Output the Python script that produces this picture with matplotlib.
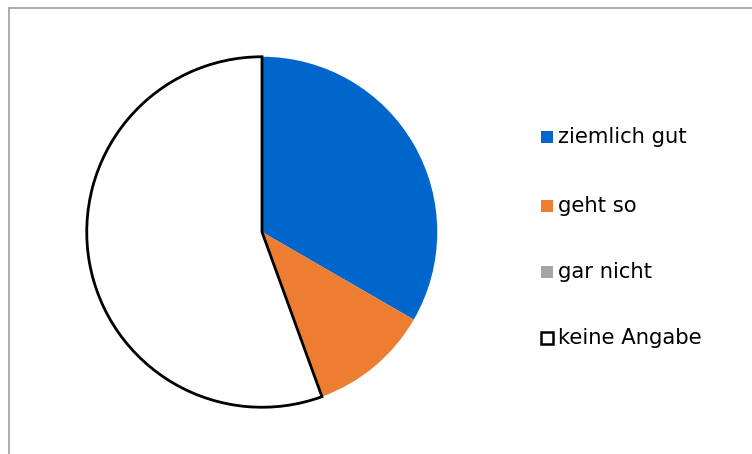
import matplotlib
matplotlib.use("Agg")
import matplotlib.pyplot as plt
from matplotlib.patches import Rectangle
from matplotlib.lines import Line2D

categories = ["ziemlich gut", "geht so", "gar nicht", "keine Angabe"]
values = [3, 1, 0, 5]
colors = ["#0066CC", "#ED7D31", "#A5A5A5", "#FFFFFF"]

W, H = 752, 454
fig = plt.figure(figsize=(W / 100, H / 100), dpi=100)

# outer frame (gray line on left and top)
fig.add_artist(Line2D([8.5 / W, 8.5 / W], [0, 1 - 7.5 / H], transform=fig.transFigure,
                      color="#A0A0A0", lw=1.2))
fig.add_artist(Line2D([8.5 / W, 1], [1 - 7.5 / H, 1 - 7.5 / H], transform=fig.transFigure,
                      color="#A0A0A0", lw=1.2))

cx, cy, r = 262, H - 232, 177
ax = fig.add_axes([(cx - r) / W, (cy - r) / H, 2 * r / W, 2 * r / H])
wedges, _ = ax.pie(values, colors=colors, startangle=90, counterclock=False, radius=1,
                   wedgeprops=dict(linewidth=0))
wedges[3].set_edgecolor("black")
wedges[3].set_linewidth(2)
ax.set_xlim(-1.01, 1.01)
ax.set_ylim(-1.01, 1.01)
ax.set_aspect("auto")
ax.axis("off")

# legend drawn manually
ys = [137, 206, 272, 338]
sq = 12.5
for lab, col, y in zip(categories, colors, ys):
    ec = "black" if col == "#FFFFFF" else col
    lw = 1.8 if col == "#FFFFFF" else 0
    fig.add_artist(Rectangle(((540.5) / W, (H - y - sq / 2) / H), sq / W, sq / H,
                             transform=fig.transFigure, facecolor=col, edgecolor=ec, lw=lw))
    fig.text(557.5 / W, (H - y) / H, lab, fontsize=15.2, va="center", ha="left",
             family="DejaVu Sans", color="black")

fig.savefig("out.png", dpi=100)
